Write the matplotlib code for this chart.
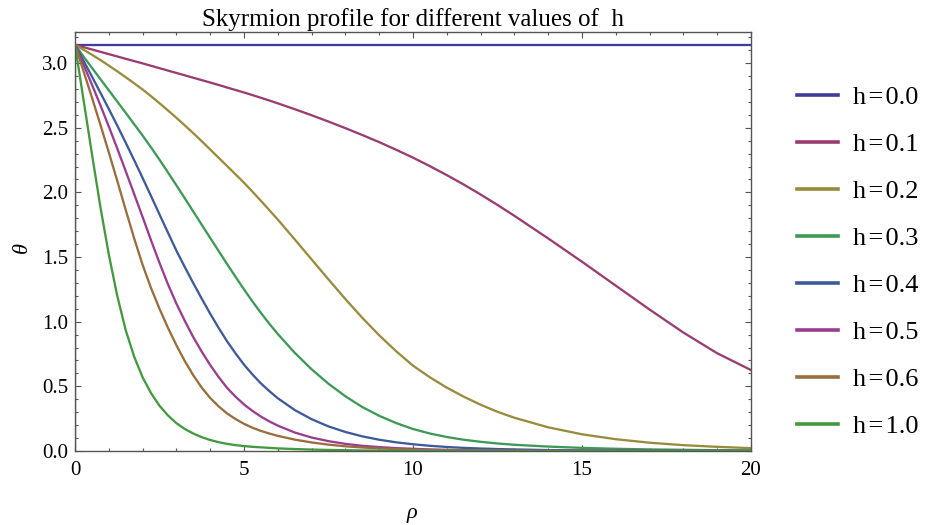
import matplotlib
matplotlib.use("Agg")
import matplotlib.pyplot as plt
from matplotlib.ticker import MultipleLocator, FormatStrFormatter

plt.rcParams['font.family'] = ['Liberation Serif', 'DejaVu Serif']

# radial coordinate samples
rho = [0, 0.25, 0.5, 0.75, 1, 1.25, 1.5, 1.75, 2, 2.25, 2.5, 2.75, 3,
       3.25, 3.5, 3.75, 4, 4.25, 4.5, 4.75, 5, 5.25, 5.5, 5.75, 6,
       6.5, 7, 7.5, 8, 8.5, 9, 9.5, 10, 10.5, 11, 11.5, 12, 12.5,
       13, 14, 15, 16, 17, 18, 19, 20]

# h = 0 stays flat at pi
rho_h00 = [0, 20]
theta_h00 = [3.1416, 3.1416]

theta_h01 = [3.1416, 3.1236, 3.1056, 3.0876, 3.0696, 3.0516, 3.0336, 3.0156,
             2.998, 2.9795, 2.961, 2.9425, 2.924,
             2.9055, 2.887, 2.8685, 2.85, 2.831, 2.8115, 2.792, 2.773, 2.7527,
             2.732, 2.7107, 2.689,
             2.644, 2.597, 2.548, 2.497, 2.444, 2.389, 2.33, 2.269, 2.203,
             2.134, 2.061, 1.984, 1.903,
             1.819, 1.644, 1.464, 1.279, 1.094, 0.916, 0.756, 0.626]
theta_h02 = [3.1416, 3.104, 3.065, 3.024, 2.981, 2.937, 2.891, 2.844, 2.796,
             2.744, 2.69, 2.634, 2.577,
             2.518, 2.458, 2.396, 2.332, 2.268, 2.204, 2.14, 2.075, 2.006,
             1.935, 1.863, 1.79,
             1.637, 1.482, 1.327, 1.175, 1.03, 0.895, 0.772, 0.66, 0.57,
             0.49, 0.42, 0.358, 0.303,
             0.257, 0.183, 0.129, 0.091, 0.064, 0.045, 0.032, 0.022]
theta_h03 = [3.1416, 3.052, 2.964, 2.877, 2.79, 2.703, 2.616, 2.528, 2.44,
             2.348, 2.253, 2.155, 2.055,
             1.954, 1.852, 1.75, 1.648, 1.547, 1.446, 1.347, 1.25, 1.157,
             1.068, 0.984, 0.905,
             0.76, 0.632, 0.52, 0.423, 0.34, 0.272, 0.216, 0.17, 0.135,
             0.108, 0.087, 0.071, 0.058,
             0.048, 0.034, 0.024, 0.017, 0.012, 0.009, 0.006, 0.005]
theta_h04 = [3.1416, 3.02, 2.897, 2.772, 2.646, 2.517, 2.385, 2.25, 2.112,
             1.972, 1.83, 1.689, 1.55,
             1.422, 1.298, 1.178, 1.062, 0.952, 0.848, 0.755, 0.668, 0.592,
             0.523, 0.463, 0.408,
             0.317, 0.246, 0.19, 0.147, 0.113, 0.087, 0.067, 0.052, 0.04,
             0.031, 0.024, 0.019, 0.015,
             0.012, 0.007, 0.005, 0.003, 0.002, 0.001, 0.001, 0.0]
theta_h05 = [3.1416, 2.99, 2.835, 2.675, 2.51, 2.34, 2.165, 1.988, 1.81,
             1.63, 1.455, 1.29, 1.14,
             1.006, 0.88, 0.768, 0.665, 0.572, 0.488, 0.42, 0.36, 0.31,
             0.266, 0.229, 0.196,
             0.143, 0.104, 0.076, 0.055, 0.04, 0.03, 0.022, 0.017, 0.012,
             0.009, 0.007, 0.005, 0.004,
             0.003, 0.002, 0.001, 0.001, 0.0, 0.0, 0.0, 0.0]
theta_h06 = [3.1416, 2.94, 2.735, 2.525, 2.31, 2.09, 1.865, 1.645, 1.44,
             1.26, 1.1, 0.953, 0.818,
             0.695, 0.585, 0.49, 0.41, 0.345, 0.29, 0.247, 0.21, 0.18,
             0.155, 0.135, 0.117,
             0.088, 0.066, 0.049, 0.036, 0.027, 0.02, 0.014, 0.01, 0.007,
             0.005, 0.004, 0.003, 0.002,
             0.001, 0.0, 0.0, 0.0, 0.0, 0.0, 0.0, 0.0]
theta_h10 = [3.1416, 2.72, 2.3, 1.89, 1.52, 1.2, 0.935, 0.73, 0.57,
             0.447, 0.35, 0.275, 0.215,
             0.17, 0.135, 0.107, 0.085, 0.068, 0.055, 0.045, 0.038, 0.032,
             0.028, 0.024, 0.02,
             0.015, 0.011, 0.008, 0.006, 0.004, 0.003, 0.002, 0.002, 0.001,
             0.001, 0.0, 0.0, 0.0,
             0.0, 0.0, 0.0, 0.0, 0.0, 0.0, 0.0, 0.0]

labels = ["h\u200a=\u200a0.0", "h\u200a=\u200a0.1", "h\u200a=\u200a0.2",
          "h\u200a=\u200a0.3", "h\u200a=\u200a0.4", "h\u200a=\u200a0.5",
          "h\u200a=\u200a0.6", "h\u200a=\u200a1.0"]
# old Mathematica default palette
colors = ["#3f3d99", "#993d71", "#998b3d", "#3d9956", "#3d5a99", "#993d90",
          "#996d3d", "#43993d"]

fig = plt.figure(figsize=(9.27, 5.25), dpi=100)
ax = fig.add_axes([0.0809, 0.141, 0.7292, 0.7986])

series = [(rho_h00, theta_h00), (rho, theta_h01), (rho, theta_h02),
          (rho, theta_h03), (rho, theta_h04), (rho, theta_h05),
          (rho, theta_h06), (rho, theta_h10)]
lines = []
for (x, y), c, lab in zip(series, colors, labels):
    ln, = ax.plot(x, y, color=c, lw=1.65, label=lab)
    lines.append(ln)
# the h=1.0 solution also runs up the rho=0 edge
ax.plot([rho[0], rho[0]], [0, theta_h10[0]], color=colors[-1], lw=1.65)

ax.set_xlim(0, 20)
ax.set_ylim(0, 3.243)
ax.xaxis.set_major_locator(MultipleLocator(5))
ax.xaxis.set_minor_locator(MultipleLocator(1))
ax.yaxis.set_major_locator(MultipleLocator(0.5))
ax.yaxis.set_minor_locator(MultipleLocator(0.1))
ax.yaxis.set_major_formatter(FormatStrFormatter('%.1f'))

frame_col = '#555555'
for sp in ax.spines.values():
    sp.set_color(frame_col)
    sp.set_linewidth(1.0)
ax.tick_params(which='both', direction='in', top=True, right=True,
               color=frame_col, width=0.8, labelsize=15)
ax.tick_params(which='major', length=4.3)
ax.tick_params(which='minor', length=2.2)
ax.tick_params(axis='y', pad=5)
ax.tick_params(axis='x', pad=7)

ax.set_title("Skyrmion profile for different values of  h", fontsize=18,
             pad=4)
ax.set_ylabel("θ", fontstyle='italic', fontsize=16)
ax.yaxis.set_label_coords(-0.064, 0.484)
ax.text(0.4985, -0.148, "ρ", transform=ax.transAxes, ha='center',
        va='center', fontstyle='italic', fontsize=16)

leg = ax.legend(handles=lines, loc='upper left',
                bbox_to_anchor=(797 / 927, 1 - 86 / 525),
                bbox_transform=fig.transFigure, frameon=False, fontsize=19,
                handlelength=1.55, handletextpad=0.56, labelspacing=0.89,
                borderpad=0, borderaxespad=0)
for hl in leg.get_lines():
    hl.set_linewidth(2.6)

fig.savefig("out.png", dpi=100)
